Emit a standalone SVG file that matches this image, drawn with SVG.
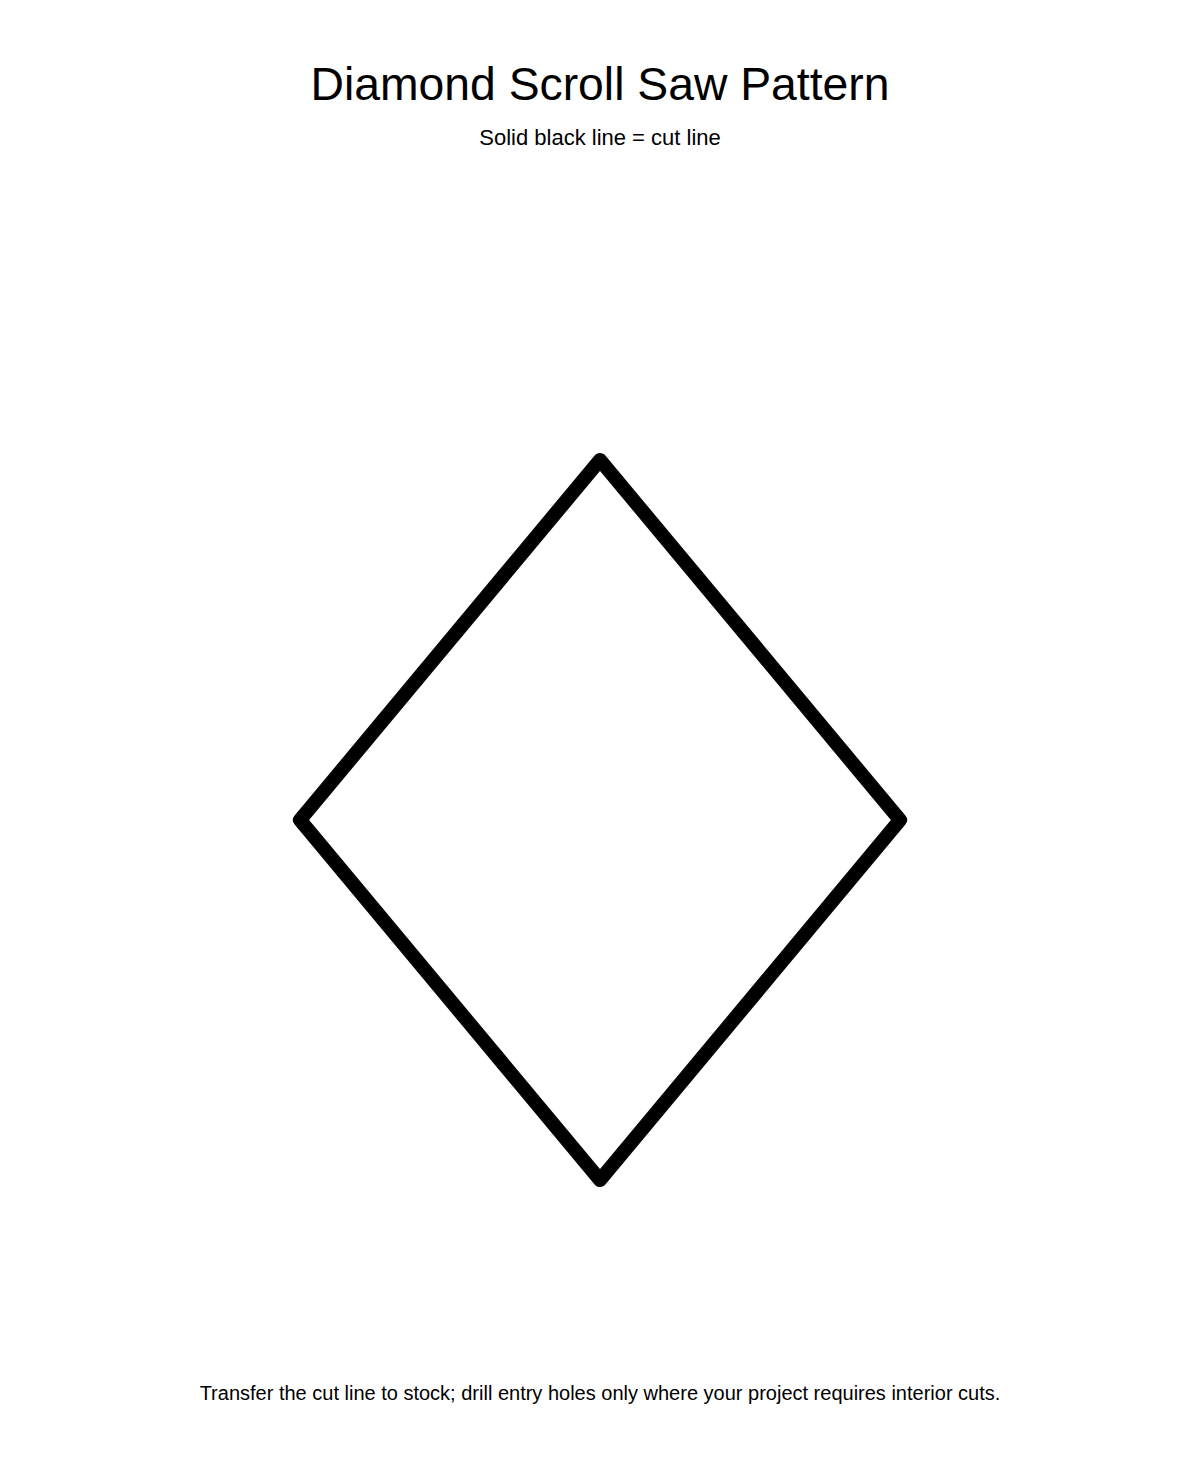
<svg xmlns="http://www.w3.org/2000/svg" width="1200" height="1480" viewBox="0 0 1200 1480">
<style>
text{font-family:"Liberation Sans",Arial,sans-serif;fill:#000;text-anchor:middle}
.cut{fill:none;stroke:#000;stroke-width:14;stroke-linejoin:round}
</style>
<rect width="1200" height="1480" fill="#fff"/>
<text x="600" y="100" font-size="46.3">Diamond Scroll Saw Pattern</text>
<text x="600" y="145" font-size="22">Solid black line = cut line</text>
<g id="diamond">
<polygon class="cut" points="600,460 900,820 600,1180 300,820"/>
</g>
<text x="600" y="1400" font-size="20">Transfer the cut line to stock; drill entry holes only where your project requires interior cuts.</text>
</svg>
